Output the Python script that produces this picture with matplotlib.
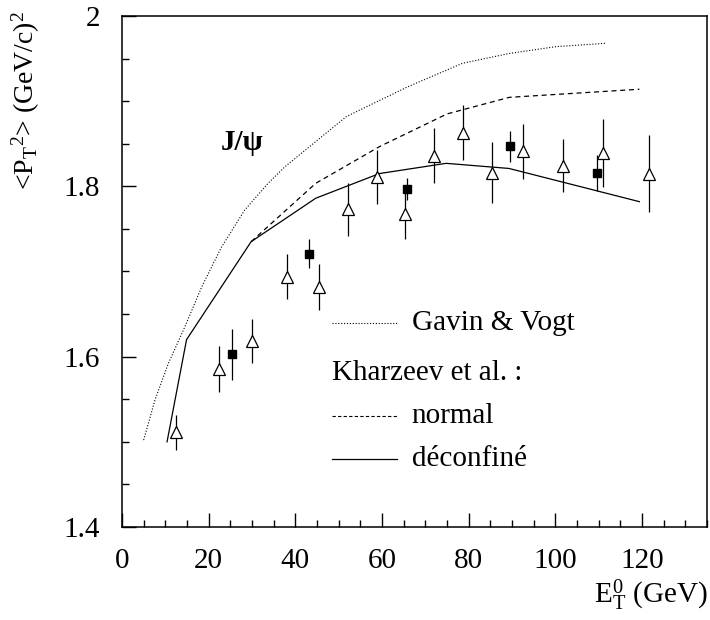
import matplotlib
matplotlib.use("Agg")
import matplotlib.pyplot as plt
from matplotlib.ticker import MultipleLocator

plt.rcParams['font.family'] = ['Liberation Serif', 'DejaVu Serif']
plt.rcParams['mathtext.fontset'] = 'custom'
plt.rcParams['mathtext.rm'] = 'Liberation Serif'
plt.rcParams['mathtext.it'] = 'Liberation Serif:italic'
plt.rcParams['mathtext.bf'] = 'Liberation Serif:bold'

# --- data: open triangles ---
tri_x = [12.4, 22.4, 29.9, 38.1, 45.5, 52.1, 58.8, 65.4, 72.0, 78.6, 85.3, 92.6, 101.8, 111.0, 121.7]
tri_y = [1.511, 1.586, 1.618, 1.694, 1.682, 1.773, 1.811, 1.768, 1.836, 1.863, 1.816, 1.841, 1.824, 1.839, 1.815]
tri_err = [0.021, 0.027, 0.026, 0.026, 0.027, 0.031, 0.032, 0.030, 0.032, 0.032, 0.036, 0.032, 0.031, 0.040, 0.045]

# --- data: filled squares ---
sq_x = [25.4, 43.2, 65.7, 89.5, 109.6]
sq_y = [1.603, 1.721, 1.797, 1.847, 1.816]
sq_err = [0.030, 0.017, 0.013, 0.018, 0.021]

# --- model curves ---
gv_x = [5.0, 7.6, 10.7, 14.5, 18.4, 23.0, 28.3, 33.7, 37.6, 51.8, 66.0, 78.6, 89.4, 100.1, 111.7]
gv_y = [1.502, 1.549, 1.592, 1.635, 1.682, 1.729, 1.772, 1.8035, 1.823, 1.882, 1.917, 1.9445, 1.956, 1.964, 1.968]

norm_x = [29.8, 44.7, 59.4, 75.0, 89.4, 119.4]
norm_y = [1.735, 1.8035, 1.8466, 1.885, 1.9045, 1.914]

dec_x = [10.4, 14.9, 29.8, 44.7, 59.4, 74.8, 89.3, 119.4]
dec_y = [1.500, 1.620, 1.735, 1.786, 1.815, 1.827, 1.821, 1.782]

legend_labels = ["Gavin & Vogt", "Kharzeev et al. :", "normal", "déconfiné"]

fig = plt.figure(figsize=(7.1, 6.2), dpi=100)
ax = fig.add_axes([0.1718, 0.15, 0.824, 0.8242])

dotted = (0, (1, 1.6))
dashed = (0, (4, 3))
lw = 0.9

ax.plot(gv_x, gv_y, color='black', lw=0.8, linestyle=dotted)
ax.plot(norm_x, norm_y, color='black', lw=lw, linestyle=dashed)
ax.plot(dec_x, dec_y, color='black', lw=lw, linestyle='-')

ax.errorbar(tri_x, tri_y, yerr=tri_err, fmt='^', ms=8, mfc='white', mec='black',
            mew=0.9, ecolor='black', elinewidth=0.9, capsize=0, zorder=3)
ax.errorbar(sq_x, sq_y, yerr=sq_err, fmt='s', ms=5.5, mfc='black', mec='black',
            ecolor='black', elinewidth=0.9, capsize=0, zorder=4)

ax.set_xlim(0, 135)
ax.set_ylim(1.4, 2.0)
ax.xaxis.set_major_locator(MultipleLocator(20))
ax.xaxis.set_minor_locator(MultipleLocator(5))
ax.yaxis.set_major_locator(MultipleLocator(0.2))
ax.yaxis.set_minor_locator(MultipleLocator(0.05))
ax.set_xticks([0, 20, 40, 60, 80, 100, 120])
ax.set_xticklabels(["0", "20", "40", "60", "80", "100", "120"])
ax.set_yticks([1.4, 1.6, 1.8, 2.0])
ax.set_yticklabels(["1.4", "1.6", "1.8", "2"])

ax.tick_params(which='both', direction='in', top=False, right=False, labelsize=21, width=1.0)
ax.tick_params(axis='y', which='major', length=10, pad=16)
ax.tick_params(axis='x', which='major', length=10, pad=15)
ax.tick_params(which='minor', length=5)
for s in ax.spines.values():
    s.set_linewidth(1.1)

fs = 21
# legend (manual)
lx = [0.359, 0.470]
tx = 0.495
ax.plot(lx, [0.3998, 0.3998], transform=ax.transAxes, color='black', lw=0.8, linestyle=dotted)
ax.text(tx, 0.3998, legend_labels[0], transform=ax.transAxes, fontsize=fs, va='center', ha='left')
ax.text(lx[0], 0.3014, legend_labels[1], transform=ax.transAxes, fontsize=fs, va='center', ha='left')
ax.plot(lx, [0.2172, 0.2172], transform=ax.transAxes, color='black', lw=0.8, linestyle=(0, (3, 2)))
ax.text(tx, 0.2172, legend_labels[2], transform=ax.transAxes, fontsize=fs, va='center', ha='left')
ax.plot(lx, [0.1331, 0.1331], transform=ax.transAxes, color='black', lw=0.9, linestyle='-')
ax.text(tx, 0.1331, legend_labels[3], transform=ax.transAxes, fontsize=fs, va='center', ha='left')

ax.text(0.205, 0.7515, "J/ψ", transform=ax.transAxes, fontsize=21, fontweight='bold',
        ha='center', va='center')

fig.text(0.036, 0.982, r'<P$_{\mathrm{T}}$$^{2}$> (GeV/c)$^{2}$', rotation=90, fontsize=20,
         ha='center', va='top')
fig.text(0.997, 0.012, r'E$_{\mathrm{T}}^{0}$ (GeV)', fontsize=21, ha='right', va='bottom')

fig.savefig("out.png", dpi=100)
